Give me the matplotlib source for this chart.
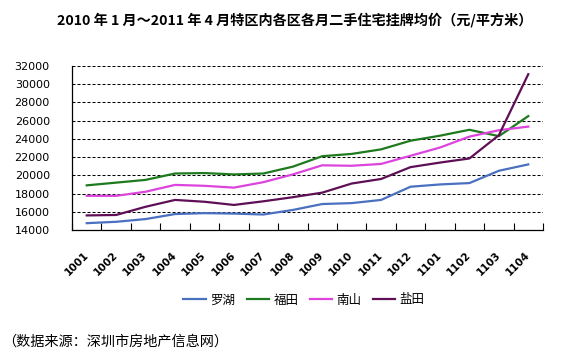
import numpy as np
import matplotlib
matplotlib.use('Agg')
import matplotlib.pyplot as plt

plt.rcParams['font.family'] = ['Noto Sans CJK SC', 'DejaVu Sans']

# Data (元/平方米), 2010-01 .. 2011-04
months = ['1001', '1002', '1003', '1004', '1005', '1006', '1007', '1008',
          '1009', '1010', '1011', '1012', '1101', '1102', '1103', '1104']
luohu = [14750, 14900, 15200, 15750, 15850, 15800, 15700, 16200,
         16850, 16950, 17300, 18750, 19000, 19150, 20500, 21200]
futian = [18900, 19200, 19500, 20200, 20250, 20100, 20200, 20950,
          22100, 22350, 22850, 23800, 24350, 25000, 24300, 26500]
nanshan = [17750, 17750, 18200, 18950, 18850, 18650, 19250, 20100,
           21100, 21050, 21250, 22150, 23050, 24250, 24950, 25350]
yantian = [15600, 15650, 16550, 17300, 17100, 16750, 17150, 17600,
           18100, 19100, 19600, 20900, 21400, 21850, 24400, 31100]
district_names = ['罗湖', '福田', '南山', '盐田']
colors = ['#4A70C0', '#1E7A1E', '#DD44DD', '#5E0F55']
y_ticks = np.arange(14000, 32001, 2000)

title = '2010 年 1 月～2011 年 4 月特区内各区各月二手住宅挂牌均价（元/平方米）'
source = '（数据来源：深圳市房地产信息网）'

W, H = 578, 351
fig = plt.figure(figsize=(W / 100, H / 100), dpi=100)
ax = fig.add_axes([72 / W, 1 - 230 / H, 471 / W, 164 / H])

x = np.arange(len(months))
series = [luohu, futian, nanshan, yantian]
handles = []
for vals, name, c in zip(series, district_names, colors):
    ln, = ax.plot(x, vals, color=c, lw=1.6, label=name, solid_joinstyle='round')
    handles.append(ln)

ax.set_xlim(-0.5, len(months) - 0.5)
ax.set_ylim(14000, 32000)
ax.set_yticks(y_ticks)
ax.set_yticklabels([str(v) for v in y_ticks], fontsize=8, family='DejaVu Sans')
ax.tick_params(axis='y', length=0, pad=16)
ax.yaxis.grid(True, color='black', lw=0.75, linestyle=(0, (2.9, 1.9)))
ax.set_axisbelow(True)

ax.set_xticks(x)
ax.set_xticklabels(months, rotation=45, ha='right', va='center',
                   rotation_mode='anchor', fontsize=7.5, fontweight='bold',
                   family='DejaVu Sans')
ax.tick_params(axis='x', which='major', length=0, pad=17)
ax.set_xticks(np.arange(-0.5, len(months)), minor=True)
ax.tick_params(axis='x', which='minor', direction='in', length=5, width=0.8)

for s in ['top', 'right']:
    ax.spines[s].set_visible(False)
for s in ['left', 'bottom']:
    ax.spines[s].set_linewidth(0.9)

fig.text(295 / W, 1 - 20 / H, title, ha='center', va='center',
         fontsize=10.2, fontweight='bold')

fig.legend(handles, district_names, loc='center',
           bbox_to_anchor=(304 / W, 1 - 300 / H), ncol=4, frameon=False,
           handlelength=1.8, handletextpad=0.35, columnspacing=0.9,
           fontsize=9)

fig.text(2 / W, 1 - 342 / H, source, ha='left', va='center', fontsize=10.2)

fig.savefig('out.png', dpi=100, facecolor='white')
